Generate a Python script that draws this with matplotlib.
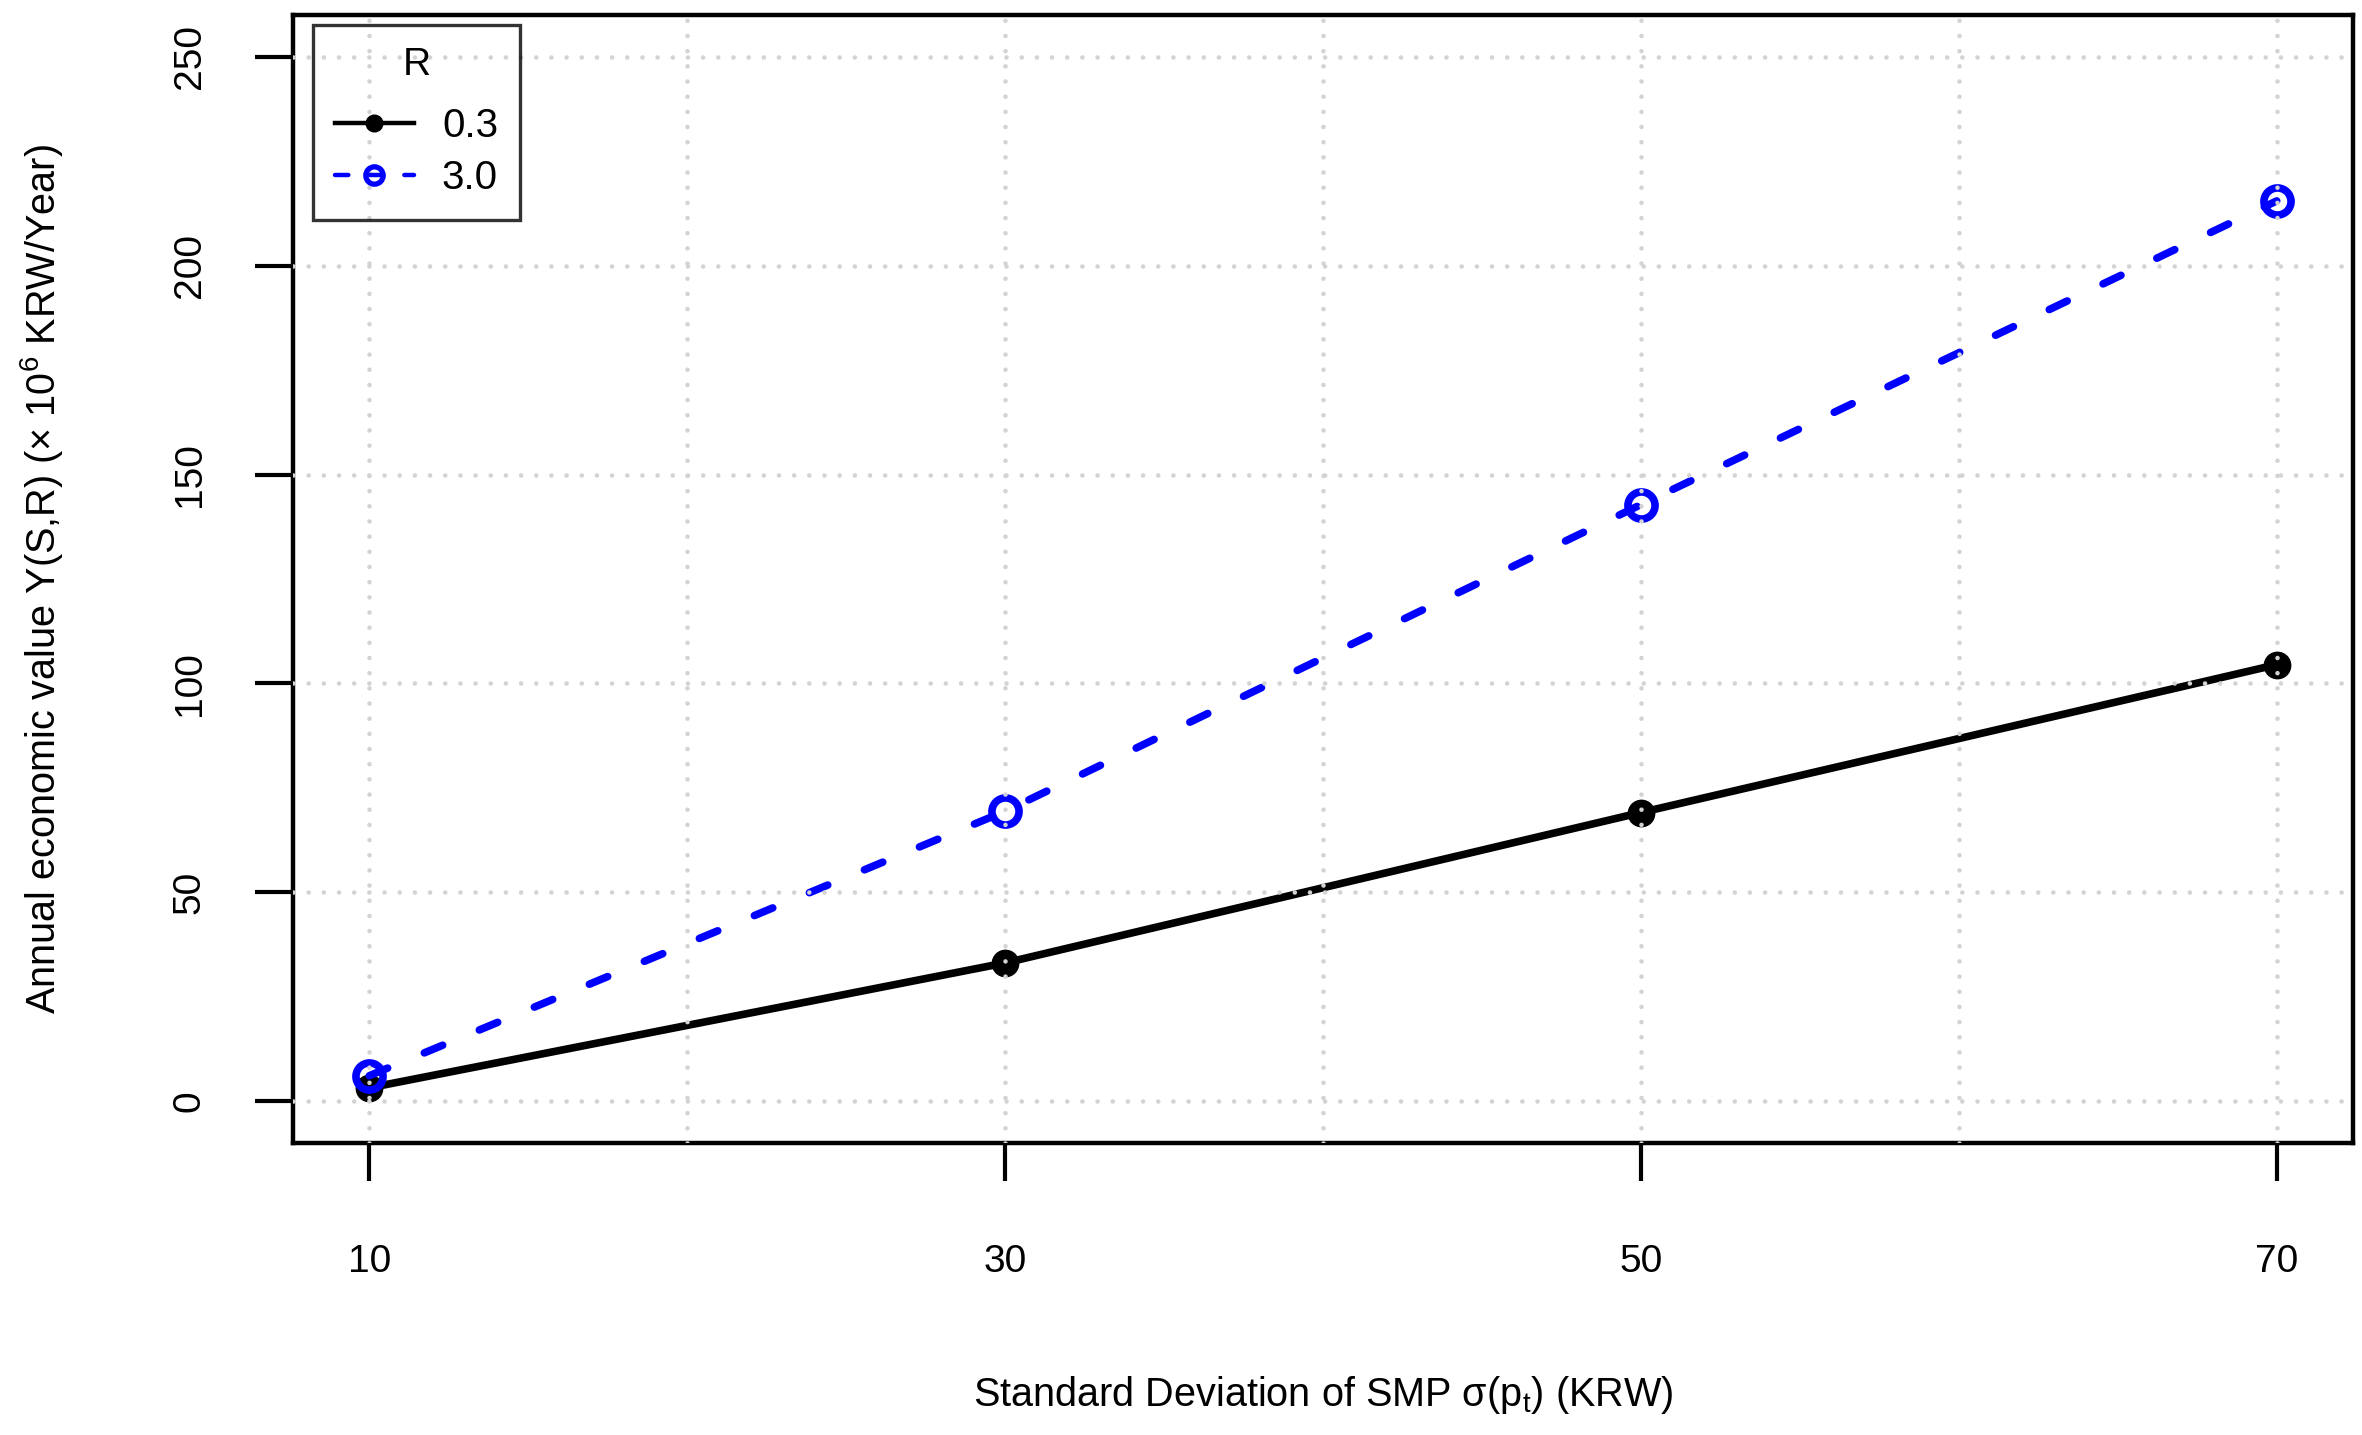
import matplotlib
matplotlib.use("Agg")
import matplotlib.pyplot as plt
from matplotlib.lines import Line2D

plt.rcParams['font.family'] = ['Liberation Sans', 'DejaVu Sans']
plt.rcParams['mathtext.fontset'] = 'custom'
plt.rcParams['mathtext.rm'] = 'Liberation Sans'
plt.rcParams['mathtext.it'] = 'Liberation Sans:italic'
plt.rcParams['mathtext.bf'] = 'Liberation Sans:bold'

# datos
sigma = [10, 30, 50, 70]
y_r03 = [3.2, 33.1, 69.1, 104.5]
y_r30 = [6.1, 69.4, 142.8, 215.5]
x_ticks = [10, 30, 50, 70]
x_grid_extra = [20, 40, 60]
y_ticks = [0, 50, 100, 150, 200, 250]
r_labels = ['0.3', '3.0']

W, H = 2362, 1435
fig = plt.figure(figsize=(W / 100, H / 100), dpi=100)
ax = fig.add_axes([293 / W, 1 - 1143 / H, 2060 / W, 1128 / H])

ax.plot(sigma, y_r03, color='black', lw=5.5, marker='o', ms=20, mew=0,
        solid_capstyle='round')
ax.plot(sigma, y_r30, color='blue', lw=5.5, linestyle=(0, (2.6, 5.2)),
        dash_capstyle='round', marker='o', ms=19.5, mfc='none', mew=5.5)

ax.set_xlim(7.6, 72.4)
ax.set_ylim(-10, 260)
ax.set_xticks(x_ticks)
ax.set_xticks(x_grid_extra, minor=True)
ax.set_yticks(y_ticks)

ax.tick_params(axis='both', which='major', direction='out', length=27.5,
               width=3, labelsize=28)
ax.tick_params(axis='x', which='major', pad=45)
ax.tick_params(axis='y', which='major', pad=34, labelrotation=90)
ax.tick_params(which='minor', length=0)
for lab in ax.get_yticklabels():
    lab.set_va('center')

for s in ax.spines.values():
    s.set_linewidth(3.2)

# rejilla punteada encima de las lineas
grid_kw = dict(color='#D3D3D3', lw=3.3, linestyle=(0, (0.01, 3.3)),
               dash_capstyle='round')
ax.xaxis.grid(True, which='both', **grid_kw)
ax.yaxis.grid(True, which='major', **grid_kw)
ax.set_axisbelow(False)

ax.set_xlabel('Standard Deviation of SMP σ(p$_\\mathrm{t}$) (KRW)',
              fontsize=28.5, va='center')
ax.xaxis.set_label_coords(0.5, (1143 - 1395) / 1128)
ax.set_ylabel(r'Annual economic value Y(S,R) ($\times$ 10$^\mathrm{6}$ KRW/Year)',
              fontsize=28.5, va='center')
ax.yaxis.set_label_coords((42 - 293) / 2060, 0.5)

handles = [
    Line2D([], [], color='black', lw=3.2, marker='o', ms=13, mew=0),
    Line2D([], [], color='blue', lw=3.2, linestyle=(0, (3.0, 4.8)),
           dash_capstyle='round', marker='o', ms=12.5, mfc='none', mew=3.8),
]
leg = ax.legend(handles, r_labels, title='R', loc='upper left',
                bbox_to_anchor=((313 - 293) / 2060, (1143 - 25) / 1128),
                borderaxespad=0, fontsize=29, title_fontsize=28,
                fancybox=False, edgecolor='black', facecolor='none',
                framealpha=None, handlelength=1.95, handletextpad=0.7,
                labelspacing=0.36, borderpad=0.55)
leg._legend_box.sep = 0.44 * 28 * 100 / 72
leg.get_frame().set_linewidth(2.4)

fig.savefig('out.png', dpi=100)
